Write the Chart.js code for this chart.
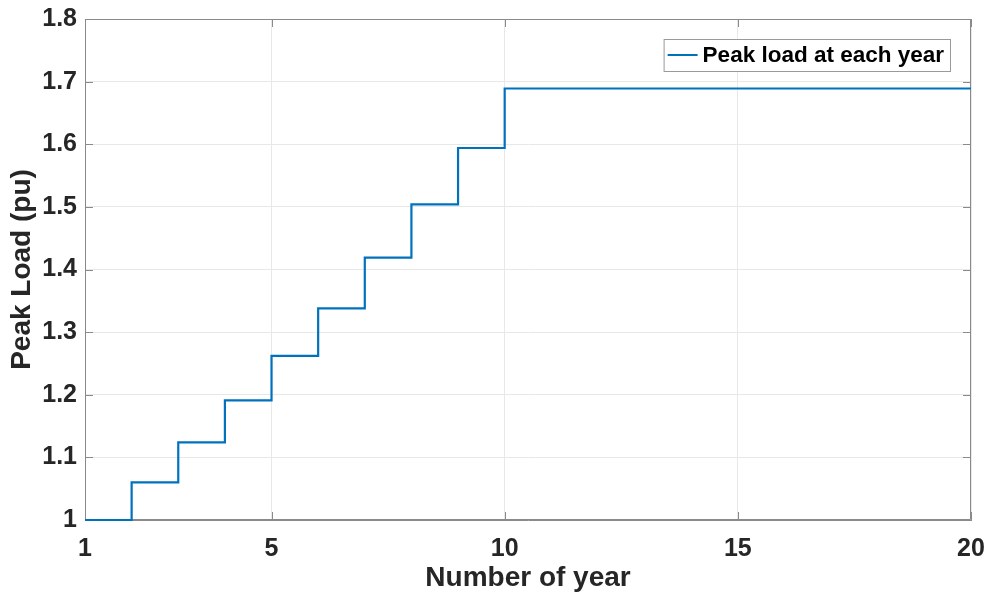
<!DOCTYPE html>
<html>
<head>
<meta charset="utf-8">
<script src="https://cdn.jsdelivr.net/npm/chart.js@4/dist/chart.umd.min.js"></script>
<style>
  html, body { margin: 0; padding: 0; background: #ffffff; }
  #wrap { width: 987px; height: 595px; }
</style>
</head>
<body>
<div id="wrap"><canvas id="c" width="987" height="595"></canvas></div>
<script>
// Year at which each peak level starts (last entry closes the final step)
const years = [1, 2, 3, 4, 5, 6, 7, 8, 9, 10, 20];
// Peak load in per-unit for each year
const peakLoad = [1.000, 1.060, 1.124, 1.191, 1.262, 1.338, 1.419, 1.504, 1.594, 1.689, 1.689];
const xTickValues = [1, 5, 10, 15, 20];
const seriesLabel = 'Peak load at each year';

const FONT = '"Liberation Sans", Arial, Helvetica, sans-serif';
const TEXT = '#262626';
const AXIS = '#8a8a8a';
const GRID = '#e8e8e8';
const LINE = '#0072BD';

// Box around the axes plus inward tick marks on all four sides
const boxTicks = {
  id: 'boxTicks',
  beforeDatasetsDraw(chart) {
    const { ctx, chartArea: a, scales: { x, y } } = chart;
    ctx.save();
    ctx.strokeStyle = AXIS;
    ctx.lineWidth = 1;
    ctx.beginPath();
    ctx.rect(a.left + 0.5, a.top + 0.5, a.right - a.left - 1, a.bottom - a.top - 1);
    ctx.stroke();
    const len = 8;
    ctx.beginPath();
    x.ticks.forEach(t => {
      const px = Math.round(x.getPixelForValue(t.value)) + 0.5;
      ctx.moveTo(px, a.bottom); ctx.lineTo(px, a.bottom - len);
      ctx.moveTo(px, a.top); ctx.lineTo(px, a.top + len);
    });
    y.ticks.forEach(t => {
      const py = Math.round(y.getPixelForValue(t.value)) + 0.5;
      ctx.moveTo(a.left, py); ctx.lineTo(a.left + len, py);
      ctx.moveTo(a.right, py); ctx.lineTo(a.right - len, py);
    });
    ctx.stroke();
    ctx.restore();
  }
};

// Boxed legend in the upper right of the plot area
const boxLegend = {
  id: 'boxLegend',
  afterDraw(chart) {
    const { ctx, chartArea: a } = chart;
    const ds = chart.data.datasets[0];
    ctx.save();
    ctx.font = 'bold 22.5px ' + FONT;
    const tw = ctx.measureText(ds.label).width;
    const h = 32;
    const w = 4 + 30 + 5 + tw + 6;
    const bx = a.right - 21 - w;
    const by = a.top + 20;
    ctx.fillStyle = '#ffffff';
    ctx.fillRect(bx, by, w, h);
    ctx.strokeStyle = '#9a9a9a';
    ctx.lineWidth = 1;
    ctx.strokeRect(bx + 0.5, by + 0.5, w, h);
    ctx.strokeStyle = ds.borderColor;
    ctx.lineWidth = 2;
    ctx.beginPath();
    ctx.moveTo(bx + 4, by + h / 2);
    ctx.lineTo(bx + 34, by + h / 2);
    ctx.stroke();
    ctx.fillStyle = '#000000';
    ctx.textBaseline = 'middle';
    ctx.textAlign = 'left';
    ctx.fillText(ds.label, bx + 39, by + h / 2 + 1);
    ctx.restore();
  }
};

new Chart(document.getElementById('c'), {
  type: 'line',
  data: {
    datasets: [{
      label: seriesLabel,
      data: years.map((yr, i) => ({ x: yr, y: peakLoad[i] })),
      borderColor: LINE,
      borderWidth: 2.2,
      pointRadius: 0,
      fill: false,
      clip: false,
      stepped: 'before',
      tension: 0
    }]
  },
  options: {
    responsive: false,
    animation: false,
    events: [],
    layout: { padding: { top: 19, right: 16, left: 0, bottom: 0 } },
    plugins: { legend: { display: false }, tooltip: { enabled: false } },
    scales: {
      x: {
        type: 'linear',
        min: 1,
        max: 20,
        afterBuildTicks(scale) { scale.ticks = xTickValues.map(v => ({ value: v })); },
        afterFit(scale) {
          scale.height = 75;
          scale.paddingLeft = 0;
          scale.paddingRight = 0;
        },
        grid: { color: GRID, drawTicks: false },
        border: { display: true, color: AXIS },
        ticks: {
          color: TEXT,
          padding: 14,
          maxRotation: 0,
          font: { family: FONT, size: 25, weight: 'bold' },
          callback: v => String(v)
        },
        title: {
          display: true,
          text: 'Number of year',
          color: TEXT,
          padding: { top: 0, bottom: 0 },
          font: { family: FONT, size: 28, weight: 'bold' }
        }
      },
      y: {
        type: 'linear',
        min: 1,
        max: 1.8,
        afterFit(scale) {
          scale.width = 85;
          scale.paddingTop = 0;
          scale.paddingBottom = 0;
        },
        grid: { color: GRID, drawTicks: false },
        border: { display: true, color: AXIS },
        ticks: {
          stepSize: 0.1,
          color: TEXT,
          padding: 8,
          font: { family: FONT, size: 25, weight: 'bold' },
          callback: v => String(Math.round(v * 10) / 10)
        },
        title: {
          display: true,
          text: 'Peak Load (pu)',
          color: TEXT,
          padding: { top: 5, bottom: 0 },
          font: { family: FONT, size: 28, weight: 'bold' }
        }
      }
    }
  },
  plugins: [boxTicks, boxLegend]
});
</script>
</body>
</html>
